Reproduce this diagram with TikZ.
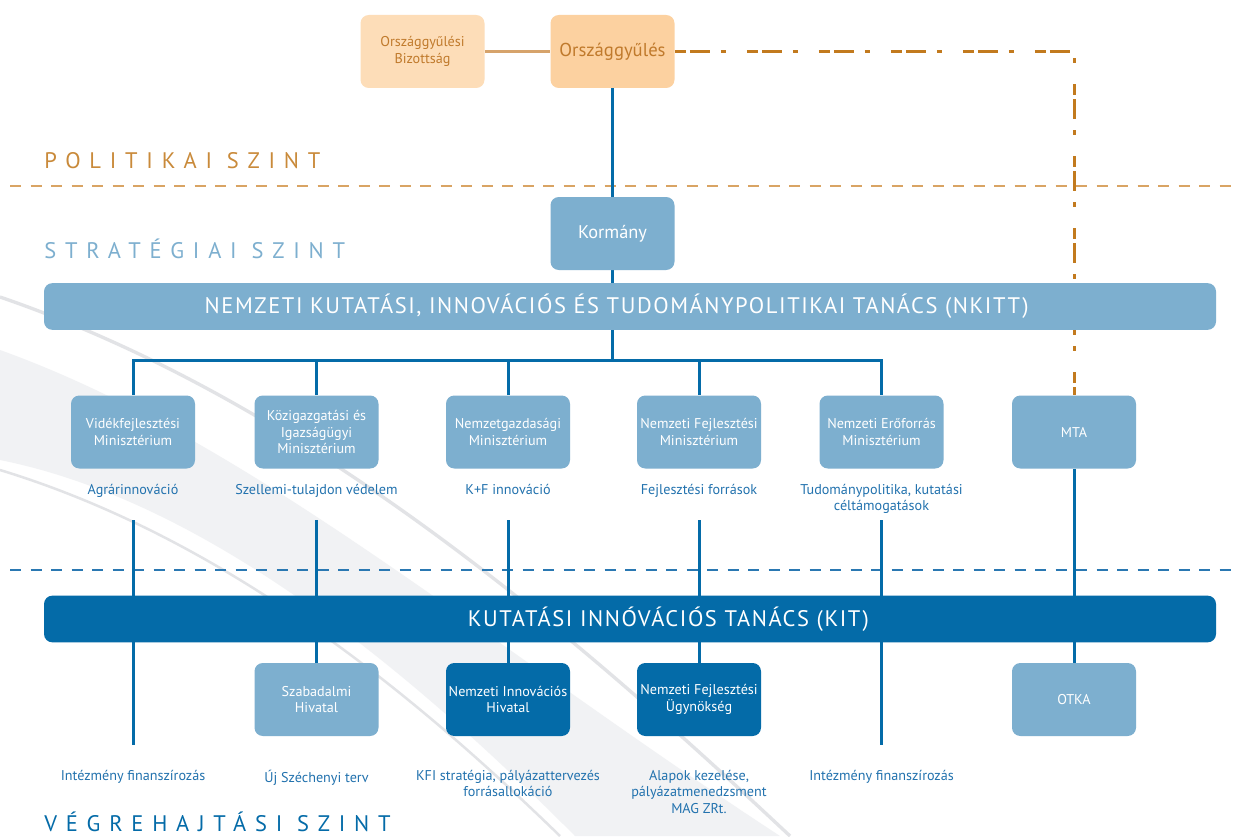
\documentclass[tikz,border=0pt]{standalone}
\usepackage{fontspec}
\setmainfont{PT Sans}
\usetikzlibrary{positioning}

\definecolor{peachlight}{HTML}{FDDDB8}
\definecolor{peach}{HTML}{FCD1A0}
\definecolor{peachtext}{HTML}{C07A2C}
\definecolor{peachline}{HTML}{D6A36B}
\definecolor{brownline}{HTML}{C27A1E}
\definecolor{politext}{HTML}{C98A3A}
\definecolor{polidash}{HTML}{D9A464}
\definecolor{lightblue}{HTML}{7DAFCF}
\definecolor{darkblue}{HTML}{046BA8}
\definecolor{labelblue}{HTML}{2272AE}
\definecolor{bluedash}{HTML}{2A78B2}
\definecolor{swoosh}{HTML}{F1F2F4}
\definecolor{swooshline}{HTML}{E2E3E6}

\pgfdeclarelayer{back}
\pgfdeclarelayer{lines}
\pgfsetlayers{back,lines,main}

\begin{document}
\begin{tikzpicture}[x=0.6pt,y=-0.6pt,
  box/.style={rounded corners=5pt, minimum width=74.4pt, minimum height=43.8pt,
    align=center, text=white, inner sep=1pt, font=\fontsize{8.5}{10}\selectfont},
  lightbox/.style={box, fill=lightblue},
  darkbox/.style={box, fill=darkblue},
  peachbox/.style={box, text=peachtext},
  bar/.style={rounded corners=5pt, minimum width=703.2pt, minimum height=28pt,
    text=white, font=\fontsize{13.5}{15}\selectfont\addfontfeature{LetterSpace=7}},
  label/.style={text=labelblue, align=center, font=\fontsize{8.5}{10}\selectfont},
  level/.style={anchor=base west, inner sep=0pt,
    font=\fontsize{13.5}{15}\selectfont\addfontfeature{LetterSpace=39}},
  conn/.style={draw=darkblue, line width=1.8pt},
  levelline/.style={line width=1.2pt, dash pattern=on 6.6pt off 5.7pt}
]
\useasboundingbox (0,0) rectangle (1238,836);

% top: parliament
\node[peachbox, fill=peachlight, font=\fontsize{8.5}{10}\selectfont] (bizottsag) at (422.5,51.5) {Országgyűlési\\Bizottság};
\node[peachbox, fill=peach, font=\fontsize{11.2}{13}\selectfont] (orszaggyules) at (612.5,51.5) {Országgyűlés};
\node[lightbox, font=\fontsize{11}{13}\selectfont] (kormany) at (612.5,233.5) {Kormány};
\node[bar, fill=lightblue] (nkitt) at (630,306.5) {NEMZETI KUTATÁSI, INNOVÁCIÓS ÉS TUDOMÁNYPOLITIKAI TANÁCS (NKITT)\hspace*{16pt}};

% ministries
\node[lightbox] (vm) at (133,432) {Vidékfejlesztési\\Minisztérium};
\node[lightbox] (kim) at (316.5,432) {Közigazgatási és\\Igazságügyi\\Minisztérium};
\node[lightbox] (ngm) at (508,432) {Nemzetgazdasági\\Minisztérium};
\node[lightbox] (nfm) at (699,432) {Nemzeti Fejlesztési\\Minisztérium};
\node[lightbox] (nem) at (881.5,432) {Nemzeti Erőforrás\\Minisztérium};
\node[lightbox] (mta) at (1074,432) {MTA};

\node[label, below=5.5pt of vm] (lvm) {Agrárinnováció};
\node[label, below=5.5pt of kim] (lkim) {Szellemi-tulajdon védelem};
\node[label, below=5.5pt of ngm] (lngm) {K+F innováció};
\node[label, below=5.5pt of nfm] (lnfm) {Fejlesztési források};
\node[label, below=5.5pt of nem] (lnem) {Tudománypolitika, kutatási\\céltámogatások};

% execution level
\node[bar, fill=darkblue] (kit) at (630,619) {\hspace*{46pt}KUTATÁSI INNÓVÁCIÓS TANÁCS (KIT)};
\node[lightbox] (szh) at (316.5,699.5) {Szabadalmi\\Hivatal};
\node[darkbox] (nih) at (508,699.5) {Nemzeti Innovációs\\Hivatal};
\node[darkbox] (nfu) at (699,699.5) {Nemzeti Fejlesztési\\Ügynökség};
\node[lightbox] (otka) at (1074,699.5) {OTKA};

\node[label, anchor=north] (lint1) at (133,764) {Intézmény finanszírozás};
\node[label, anchor=north] (lszh) at (316.5,764) {Új Széchenyi terv};
\node[label, anchor=north] (lnih) at (508,764) {KFI stratégia, pályázattervezés\\forrásallokáció};
\node[label, anchor=north] (lnfu) at (699,764) {Alapok kezelése,\\pályázatmenedzsment\\MAG ZRt.};
\node[label, anchor=north] (lint2) at (881.5,764) {Intézmény finanszírozás};

% levels
\node[level, text=politext] (politikai) at (44,168) {POLITIKAI SZINT};
\node[level, text=lightblue] (strategiai) at (44,258) {STRATÉGIAI SZINT};
\node[level, text=darkblue] (vegrehajtasi) at (44,831) {VÉGREHAJTÁSI SZINT};

\coordinate (hub) at (612.5,360);
\coordinate (t1) at (133,520);
\coordinate (e1) at (133,745);
\coordinate (t2) at (316.5,520);
\coordinate (t3) at (508,520);
\coordinate (t4) at (699,520);
\coordinate (t5) at (881.5,520);
\coordinate (e5) at (881.5,745);

\begin{pgfonlayer}{lines}
\draw[peachline, line width=1.8pt] (bizottsag.east) -- (orszaggyules.west);
\draw[brownline, line width=1.8pt, dash pattern=on 6.6pt off 2.4pt on 12pt off 6.6pt on 3pt off 12.6pt] (orszaggyules.east) -| (mta.north);
\draw[conn] (orszaggyules.south) -- (kormany.north);
\draw[conn] (kormany.south) -- (kormany.south |- nkitt.north);
\draw[conn] (kormany.south |- nkitt.south) -- (hub);
\draw[conn] (vm.north) |- (hub) -| (nem.north);
\draw[conn] (kim.north) -- (kim.north |- hub);
\draw[conn] (ngm.north) -- (ngm.north |- hub);
\draw[conn] (nfm.north) -- (nfm.north |- hub);
\draw[conn] (t1) -- (e1);
\draw[conn] (t2) -- (szh.north);
\draw[conn] (t3) -- (nih.north);
\draw[conn] (t4) -- (nfu.north);
\draw[conn] (t5) -- (e5);
\draw[conn] (mta.south) -- (otka.north);
\end{pgfonlayer}

\begin{pgfonlayer}{back}
\fill[white] (0,0) rectangle (1238,836);
\fill[swoosh] (0,350) .. controls (250,440) and (480,640) .. (780,836) -- (575,836) .. controls (400,660) and (200,500) .. (0,460) -- cycle;
\draw[swooshline, line width=2pt] (0,297) .. controls (300,400) and (560,620) .. (790,836);
\draw[swooshline, line width=1.5pt] (0,470) .. controls (230,540) and (420,700) .. (560,836);
\coordinate (pl) at (10,186);
\coordinate (pr) at (1238,186);
\coordinate (bl) at (10,570);
\coordinate (br) at (1238,570);
\draw[levelline, polidash] (pl) -- (pr);
\draw[levelline, bluedash] (bl) -- (br);
\end{pgfonlayer}
\end{tikzpicture}
\end{document}
